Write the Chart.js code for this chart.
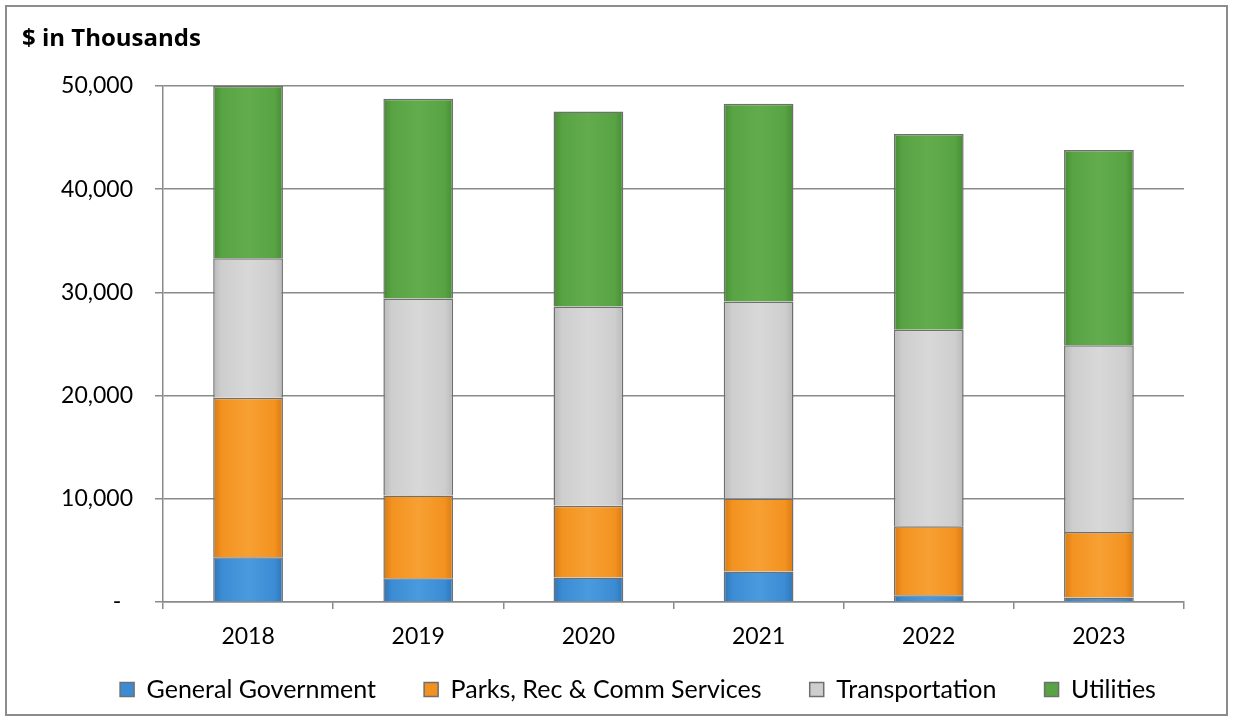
<!DOCTYPE html>
<html>
<head>
<meta charset="utf-8">
<title>Expenditures by Function</title>
<script src="https://cdn.jsdelivr.net/npm/chart.js@4"></script>
<style>
  body { margin: 0; background: #fff; }
  #frame {
    position: absolute; left: 5px; top: 5px;
    width: 1219px; height: 707px;
    border: 2px solid #8c8c8c;
  }
  #title {
    position: absolute; left: 15px; top: 13px;
    font: bold 24px "Open Sans", sans-serif; color: #000;
  }
  canvas { display: block; }
</style>
</head>
<body>
<div id="frame">
  <canvas id="spendChart" width="1219" height="707"></canvas>
  <div id="title">$ in Thousands</div>
</div>
<script>
// Fiscal years and amounts ($ in thousands) per function
const years = ['2018', '2019', '2020', '2021', '2022', '2023'];
const generalGovernment = [4330, 2290, 2380, 2960, 650, 430];
const parksRecComm = [15470, 8040, 6940, 7060, 6680, 6350];
const transportation = [13500, 19090, 19320, 19110, 19060, 18090];
const utilities = [16700, 19340, 18880, 19140, 18970, 18940];
const yTicks = [0, 10000, 20000, 30000, 40000, 50000];

const gridColor = '#8a8a8a';
const font = { family: 'Lato, sans-serif', size: 23 };
const legendFont = { family: 'Lato, sans-serif', size: 25 };
const BAR_FRACTION = 0.41;

// darker rim, lighter middle: gives each segment a rounded look
function shaded(edge, mid, light) {
    return function (context) {
        const chart = context.chart;
        const area = chart.chartArea;
        if (!area) return mid;
        const xScale = chart.scales.x;
        const cx = xScale.getPixelForValue(context.dataIndex);
        const half = (area.width / years.length) * BAR_FRACTION / 2;
        const g = chart.ctx.createLinearGradient(cx - half, 0, cx + half, 0);
        g.addColorStop(0, edge);
        g.addColorStop(0.12, mid);
        g.addColorStop(0.5, light);
        g.addColorStop(0.88, mid);
        g.addColorStop(1, edge);
        return g;
    };
}

function series(label, data, colors) {
    return {
        label: label,
        data: data,
        backgroundColor: shaded(colors[0], colors[1], colors[2]),
        borderColor: '#6f6f6f',
        borderWidth: 1.5,
        categoryPercentage: 1,
        barPercentage: BAR_FRACTION
    };
}

const ctx = document.getElementById('spendChart').getContext('2d');
new Chart(ctx, {
    type: 'bar',
    data: {
        labels: years,
        datasets: [
            series('General Government', generalGovernment, ['#2f74b5', '#3b8cd4', '#4a9ade']),
            series('Parks, Rec & Comm Services', parksRecComm, ['#d97a12', '#f39220', '#f7a033']),
            series('Transportation', transportation, ['#b9b9b9', '#cecece', '#d8d8d8']),
            series('Utilities', utilities, ['#468c33', '#58a343', '#62ac4d'])
        ]
    },
    options: {
        responsive: false,
        animation: false,
        layout: { padding: { left: 43, right: 0, top: 79, bottom: 2 } },
        plugins: {
            tooltip: { enabled: false },
            legend: {
                position: 'bottom',
                labels: {
                    font: legendFont,
                    color: '#000',
                    boxWidth: 14,
                    boxHeight: 14,
                    padding: 29,
                    generateLabels(chart) {
                        const items = Chart.defaults.plugins.legend.labels.generateLabels(chart);
                        const fills = ['#3b8cd4', '#f39220', '#cecece', '#58a343'];
                        items.forEach((it, i) => {
                            it.fillStyle = fills[i];
                            // a little extra room after each entry but the last
                            if (i < items.length - 1) it.text += '\u00a0\u00a0\u00a0';
                        });
                        return items;
                    }
                }
            }
        },
        scales: {
            x: {
                stacked: true,
                grid: { drawOnChartArea: false, color: gridColor, lineWidth: 1.5, tickLength: 7 },
                border: { color: gridColor, width: 1.5 },
                ticks: { font: font, color: '#000', padding: 14 },
                afterFit(scale) { scale.height = 46; }
            },
            y: {
                stacked: true,
                min: 0,
                max: 50000,
                afterBuildTicks(scale) { scale.ticks = yTicks.map(v => ({ value: v })); },
                grid: { color: gridColor, lineWidth: 1.5, tickLength: 8 },
                border: { color: gridColor, width: 1.5 },
                ticks: {
                    font: font,
                    color: '#000',
                    padding: 22,
                    callback: v => v === 0 ? '-  ' : v.toLocaleString('en-US')
                },
                afterFit(scale) { scale.width = 113; }
            },
            // empty axis that keeps the right margin beside the plot
            spacer: {
                type: 'linear',
                position: 'right',
                grid: { display: false },
                border: { display: false },
                ticks: { display: false },
                afterFit(scale) { scale.width = 42; }
            }
        }
    }
});
</script>
</body>
</html>
